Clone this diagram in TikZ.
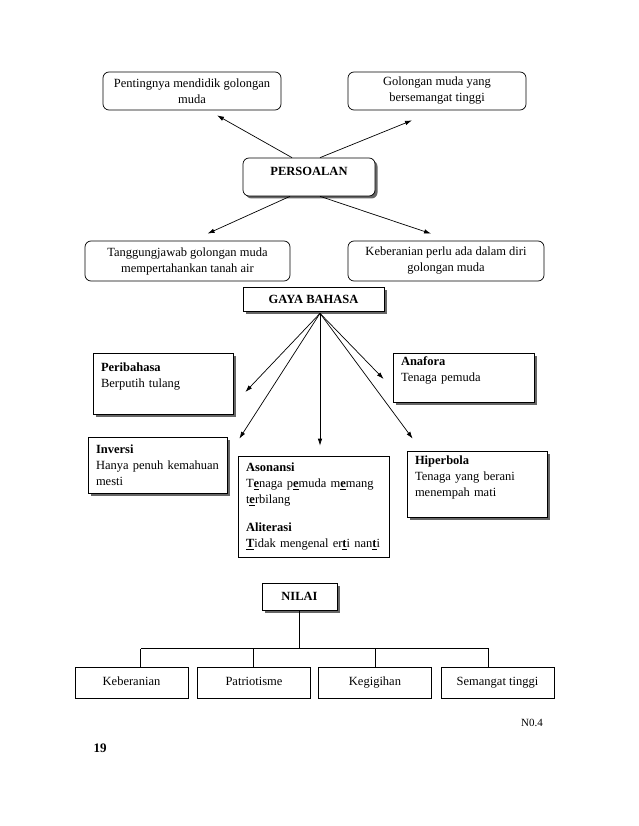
\documentclass[tikz,border=0pt]{standalone}
\usepackage{fontspec}
\setmainfont{Liberation Serif}
\usetikzlibrary{arrows.meta,calc,shadows}

\begin{document}
\begin{tikzpicture}[
  x=1pt, y=-1pt,
  >={Latex[length=7pt,width=4.5pt]},
  every node/.style={font=\fontsize{12.5}{16}\selectfont},
  rbox/.style 2 args={draw,line width=0.7pt,rounded corners=6pt,align=center,
    minimum width=#1pt,minimum height=#2pt,inner sep=2pt},
  hbox/.style 2 args={draw,line width=0.7pt,fill=white,align=center,
    font=\fontsize{12.5}{16}\selectfont\bfseries,
    minimum width=#1pt,minimum height=#2pt,inner sep=2pt},
  tbox/.style 2 args={draw,line width=0.7pt,fill=white,align=left,
    text width=#1pt,minimum height=#2pt,inner xsep=8pt,inner ysep=2pt},
  nbox/.style={draw,line width=0.7pt,minimum width=113pt,minimum height=31pt,
    text height=9pt,text depth=3pt},
  shd/.style={drop shadow={shadow xshift=2.5pt,shadow yshift=-2.5pt,
    fill=black!60,opacity=1}},
  arr/.style={->,line width=0.7pt}
]
  \useasboundingbox (0,0) rectangle (638,826);

  % persoalan
  \node[rbox={178}{38}] (pent) at (192,91) {Pentingnya mendidik golongan\\muda};
  \node[rbox={178}{38}] (golo) at (437,91) {Golongan muda yang\\bersemangat tinggi};
  \node[rbox={132}{38},fill=white,shd,text height=9pt,text depth=11pt,
    font=\fontsize{12.5}{16}\selectfont\bfseries] (pers) at (309,177) {PERSOALAN};
  \node[rbox={205}{40}] (tang) at (187.5,261) {Tanggungjawab golongan muda\\mempertahankan tanah air};
  \node[rbox={196}{40}] (kebp) at (446,261) {Keberanian perlu ada dalam diri\\golongan muda};

  \draw[arr] ($(pers.north)+(-17,0)$) -- ($(pent.south)+(25,5)$);
  \draw[arr] ($(pers.north)+(11,0)$) -- ($(golo.south)+(-25,10)$);
  \draw[arr] ($(pers.south)+(-19,0)$) -- ($(tang.north)+(20,-7)$);
  \draw[arr] ($(pers.south)+(11,0)$) -- ($(kebp.north)+(-15,-7)$);

  % gaya bahasa
  \node[hbox={141}{24},shd] (gaya) at (313.5,299) {GAYA BAHASA};
  \coordinate (fan) at ($(gaya.south)+(6.5,2)$);

  \node[tbox={124}{61},shd] (peri) at (163,383.5)
    {\textbf{Peribahasa}\\Berputih tulang\\~};
  \node[tbox={125}{49},shd] (anaf) at (463.5,377.5)
    {\textbf{Anafora}\\Tenaga pemuda\\~};
  \node[tbox={123}{56},shd] (inv) at (157.5,465)
    {\textbf{Inversi}\\Hanya penuh kemahuan\\mesti};
  \node[tbox={135}{101}] (ason) at (313.5,506.5)
    {\textbf{Asonansi}\\T\underline{\textbf{e}}naga p\underline{\textbf{e}}muda m\underline{\textbf{e}}mang\\t\underline{\textbf{e}}rbilang\\[12pt]
     \textbf{Aliterasi}\\\underline{\textbf{T}}idak mengenal er\underline{\textbf{t}}i nan\underline{\textbf{t}}i};
  \node[tbox={124}{66},shd] (hip) at (477,484)
    {\textbf{Hiperbola}\\Tenaga yang berani\\menempah mati\\~};

  \draw[arr] (fan) -- ($(peri.east)+(12,8.5)$);
  \draw[arr] (fan) -- ($(inv.north east)+(12,2)$);
  \draw[arr] (fan) -- ($(fan |- ason.north)+(0,-10)$);
  \draw[arr] (fan) -- ($(anaf.west)+(-9,1.5)$);
  \draw[arr] (fan) -- ($(hip.north west)+(6,-12)$);

  % nilai
  \node[hbox={75}{27},shd] (nilai) at (299.5,596.5) {NILAI};
  \node[nbox] (kb) at (131.5,682.5) {Keberanian};
  \node[nbox] (pat) at (254,682.5) {Patriotisme};
  \node[nbox] (keg) at (375,682.5) {Kegigihan};
  \node[nbox] (sem) at (497.5,682.5) {Semangat tinggi};

  \foreach \n/\dx in {kb/9,pat/-1,keg/0,sem/-9}
    \draw[line width=0.7pt] ($(\n.north)+(\dx,0)$) -- ++(0,-18) coordinate (top\n);
  \draw[line width=0.7pt] (topkb) -- (topsem);
  \draw[line width=0.7pt] (nilai.south) -- (nilai.south |- topkb);

  \node[font=\fontsize{11}{13}\selectfont] (no) at (532,723) {N0.4};
  \node[font=\fontsize{13}{15}\selectfont\bfseries] (pg) at (100,748) {19};
\end{tikzpicture}
\end{document}
